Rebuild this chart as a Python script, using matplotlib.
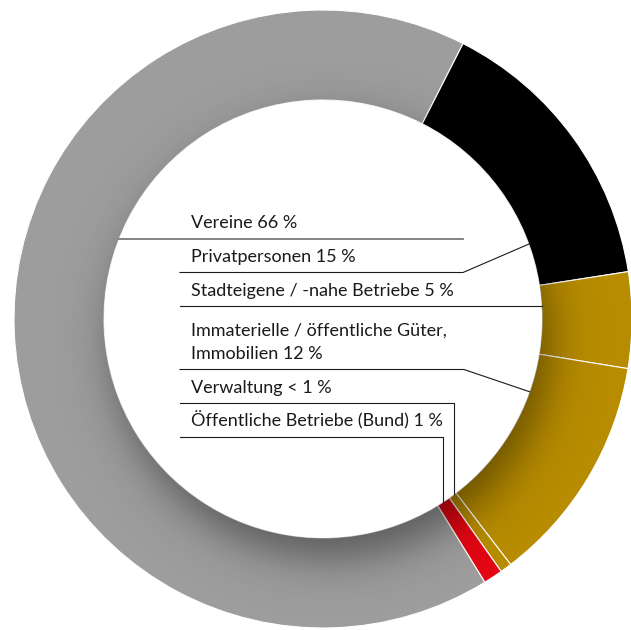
import numpy as np
import matplotlib
matplotlib.use("Agg")
import matplotlib.pyplot as plt
from matplotlib.patches import Wedge

# ---- data ----
categories = ["Vereine", "Privatpersonen", "Stadteigene / -nahe Betriebe",
              "Immaterielle / öffentliche Güter, Immobilien", "Verwaltung",
              "Öffentliche Betriebe (Bund)"]
values = [66, 15, 5, 12, 0.6, 1]
labels = ["Vereine 66 %", "Privatpersonen 15 %", "Stadteigene / -nahe Betriebe 5 %",
          "Immaterielle / öffentliche Güter,\nImmobilien 12 %", "Verwaltung < 1 %",
          "Öffentliche Betriebe (Bund) 1 %"]
colors = ["#9d9d9d", "#000000", "#b78c00", "#b78c00", "#b78c00", "#e30613"]

# ---- layout (pixel coordinates, y downwards) ----
W, H = 631, 630
cx, cy = 323, 319
R_out, R_in = 309, 219

fig = plt.figure(figsize=(W / 100, H / 100), dpi=100)
ax = fig.add_axes([0, 0, 1, 1])

# visual clockwise angle from top -> data angle (y axis inverted)
start_visual = 148.4
ax.pie(values, colors=colors, startangle=start_visual - 90, counterclock=True,
       radius=R_out, center=(cx, cy),
       wedgeprops=dict(width=R_out - R_in, edgecolor="white", linewidth=0.8))
ax.set_xlim(0, W)
ax.set_ylim(H, 0)
ax.set_aspect("equal")
ax.axis("off")

# inner shadow (drop shadow of the hole, offset down-right)
xs = np.arange(W) + 0.5
ys = np.arange(H) + 0.5
X, Y = np.meshgrid(xs, ys)
rho = np.hypot(X - (cx + 8), Y - (cy + 20))
d = rho - R_in
sigma = 22.0
S = 1.0 / (1.0 + np.exp(1.702 * d / sigma))
img = np.zeros((H, W, 4))
img[..., 3] = 0.42 * S
im = ax.imshow(img, extent=(0, W, H, 0), origin="upper", zorder=3, interpolation="bilinear")
ring = Wedge((cx, cy), R_out, 0, 360, width=R_out - R_in, transform=ax.transData)
im.set_clip_path(ring)
ax.set_xlim(0, W)
ax.set_ylim(H, 0)

plt.rcParams["font.family"] = ["Lato", "DejaVu Sans"]

def ring_x(y, side=1):
    return cx + side * np.sqrt(R_in ** 2 - (y - cy) ** 2)

def ring_y(x):
    return cy + np.sqrt(R_in ** 2 - (x - cx) ** 2)

def ring_pt(theta):
    t = np.radians(theta)
    return cx + R_in * np.sin(t), cy - R_in * np.cos(t)

tx = 191
x0 = 180
lines_y = [239, 272.5, 306.3, 369.5, 403, 436.7]
fs = 13
lc = "#1a1a1a"
lw = 0.8

# text
for lab, ly in zip(labels, lines_y):
    ax.text(tx, ly - 10.5, lab, fontsize=fs, color="#1a1a1a", va="baseline",
            ha="left", linespacing=1.6, zorder=5)

# leader lines
ax.plot([ring_x(lines_y[0], -1), 463], [lines_y[0]] * 2, color="#7a7a7a", lw=1.3, zorder=4)
px, py = ring_pt(70)
ax.plot([x0, 463, px], [lines_y[1], lines_y[1], py], color=lc, lw=lw, zorder=4)
ax.plot([x0, ring_x(lines_y[2], 1)], [lines_y[2]] * 2, color=lc, lw=lw, zorder=4)
px, py = ring_pt(109.4)
ax.plot([x0, 464, px], [lines_y[3], lines_y[3], py], color=lc, lw=lw, zorder=4)
ax.plot([x0, 454, 454], [lines_y[4], lines_y[4], ring_y(454)], color=lc, lw=lw, zorder=4)
ax.plot([x0, 443.3, 443.3], [lines_y[5], lines_y[5], ring_y(443.3)], color=lc, lw=lw, zorder=4)

fig.savefig("out.png", dpi=100)
